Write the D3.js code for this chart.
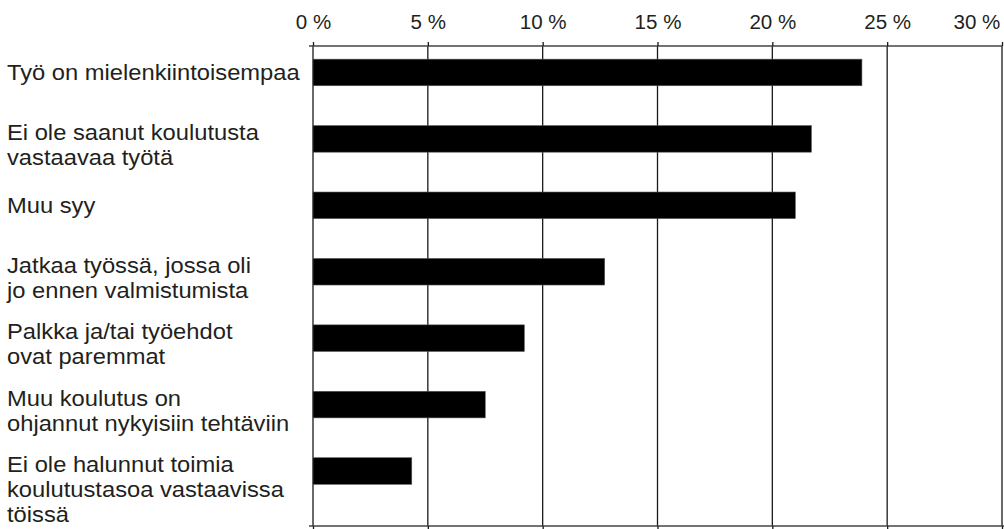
<!DOCTYPE html>
<html><head><meta charset="utf-8">
<script src="https://cdn.jsdelivr.net/npm/d3@7"></script>
<style>
body{margin:0;background:#fff}
svg{display:block}
text{font-family:"Liberation Sans",Arial,Helvetica,sans-serif;fill:#231f20}
</style>
</head><body><svg id="c" width="1004" height="529"></svg>
<script>
const categories = [
  ["Työ on mielenkiintoisempaa"],
  ["Ei ole saanut koulutusta", "vastaavaa työtä"],
  ["Muu syy"],
  ["Jatkaa työssä, jossa oli", "jo ennen valmistumista"],
  ["Palkka ja/tai työehdot", "ovat paremmat"],
  ["Muu koulutus on", "ohjannut nykyisiin tehtäviin"],
  ["Ei ole halunnut toimia", "koulutustasoa vastaavissa", "töissä"]
];
const values = [23.9, 21.7, 21.0, 12.7, 9.2, 7.5, 4.3];
const tickValues = [0, 5, 10, 15, 20, 25, 30];
const tickLabels = ["0 %", "5 %", "10 %", "15 %", "20 %", "25 %", "30 %"];

const svg = d3.select("#c");
const plotTop = 46, plotBottom = 526, plotLeft = 313, plotRight = 1002;
const stretch = 1.055;
const keys = categories.map(c => c.join(" "));

const x = d3.scaleLinear().domain([0, 30]).range([plotLeft, plotRight]);
const y = d3.scaleBand().domain(keys).range([plotTop, plotBottom])
  .paddingInner(0.6).paddingOuter(0.413).align(0.24);

// gridlines
svg.append("g").selectAll("line").data(tickValues).join("line")
  .attr("x1", d => x(d)).attr("x2", d => x(d))
  .attr("y1", plotTop).attr("y2", plotBottom)
  .attr("stroke", "#1a1a1a").attr("stroke-width", 1.3);

// top axis
const gTop = svg.append("g").attr("transform", `translate(0,${plotTop})`)
  .call(d3.axisTop(x).tickValues(tickValues).tickSize(4).tickSizeOuter(0)
    .tickPadding(13).tickFormat((d, i) => tickLabels[i]));
gTop.select(".domain").attr("stroke", "#444").attr("stroke-width", 1.4)
  .attr("d", `M${plotLeft - 4},0H${plotRight}`);
gTop.selectAll(".tick line").attr("stroke", "#1a1a1a").attr("stroke-width", 1.3);
gTop.selectAll(".tick text").attr("font-size", 19.5).attr("fill", "#231f20")
  .attr("font-family", "'Liberation Sans',Arial,Helvetica,sans-serif")
  .attr("transform", `scale(${stretch},1)`);
// keep the last label inside the picture
gTop.selectAll(".tick text").filter(d => d === tickValues[tickValues.length - 1])
  .attr("text-anchor", "end").attr("x", -2);

// bottom axis
const gBot = svg.append("g").attr("transform", `translate(0,${plotBottom})`)
  .call(d3.axisBottom(x).tickValues(tickValues).tickSize(4).tickSizeOuter(0).tickFormat(""));
gBot.select(".domain").attr("stroke", "#444").attr("stroke-width", 1.4)
  .attr("d", `M${plotLeft - 4},0H${plotRight + 2}`);
gBot.selectAll(".tick line").attr("stroke", "#1a1a1a").attr("stroke-width", 1.3);

// bars
svg.append("g").selectAll("rect").data(values).join("rect")
  .attr("x", x(0))
  .attr("y", (d, i) => y(keys[i]))
  .attr("width", d => x(d) - x(0))
  .attr("height", y.bandwidth())
  .attr("fill", "#000")
  .attr("stroke", "#555").attr("stroke-width", 0.6);

// category labels
const labelX = 7, fs = 22.5, lh = 25;
const lg = svg.append("g");
categories.forEach((lines, i) => {
  const c = y(keys[i]) + y.bandwidth() / 2;
  const base = lines.length === 1 ? c + 7.5 : c + 1;
  const t = lg.append("text")
    .attr("transform", `translate(${labelX},${base}) scale(${stretch},1)`)
    .attr("font-size", fs);
  lines.forEach((ln, j) => {
    t.append("tspan").attr("x", 0).attr("y", j * lh).text(ln);
  });
});
</script>
</body></html>
